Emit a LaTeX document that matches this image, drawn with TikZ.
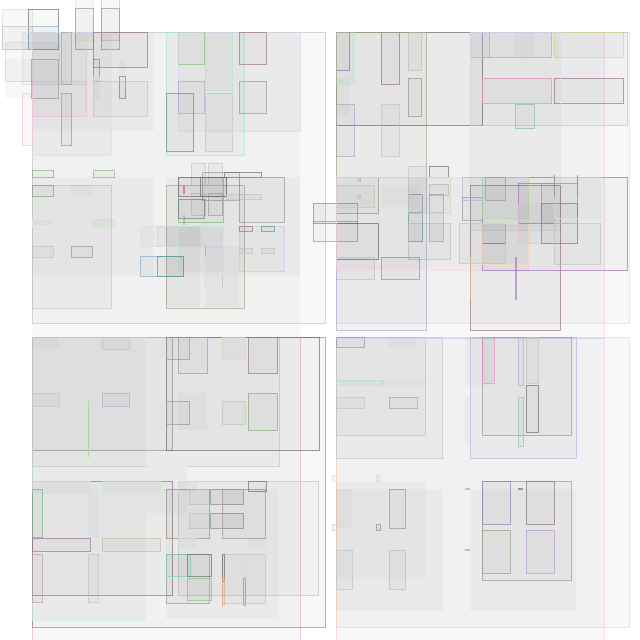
\documentclass[tikz,border=0pt]{standalone}
\usetikzlibrary{}
\definecolor{cgr}{HTML}{9A9A9A}
\definecolor{cdg}{HTML}{707070}
\definecolor{clg}{HTML}{C4C4C4}
\definecolor{cma}{HTML}{9A7888}
\definecolor{cpu}{HTML}{A070C0}
\definecolor{cpk}{HTML}{E890C8}
\definecolor{cgn}{HTML}{88C878}
\definecolor{cmi}{HTML}{80E0C0}
\definecolor{cla}{HTML}{B8B8E0}
\definecolor{cte}{HTML}{5A9A90}
\definecolor{cbl}{HTML}{90B0D0}
\definecolor{col}{HTML}{A8A888}
\definecolor{cor}{HTML}{F4C890}
\definecolor{ctn}{HTML}{D0B898}
\definecolor{cre}{HTML}{E07080}
\definecolor{cye}{HTML}{F0E090}
\definecolor{cbg}{HTML}{8090A8}
\tikzset{
  bx/.style={fill=black,fill opacity=0.026,line width=0.8pt,draw opacity=0.7},
  nf/.style={fill=black,fill opacity=0.026,draw=none},
  edge/.style={line width=0.8pt,draw opacity=0.7},
}
\newcommand\rb[5]{\draw[bx,#1] (#2,#3) rectangle (#4,#5);}
\newcommand\rf[4]{\fill[nf] (#1,#2) rectangle (#3,#4);}
\begin{document}
\begin{tikzpicture}[x=1pt,y=-1pt]
\useasboundingbox (0,0) rectangle (640,640);
% big faint columns
\rf{32}{32}{300}{660}
\draw[edge,cpk!70] (32,337)--(32,660) (300,337)--(300,660);
\rf{336}{32}{604}{660}
\draw[edge,cpk!40] (336,337)--(336,660) (604,32)--(604,660);
% quadrants
\rb{draw=clg}{32}{32}{325}{323}
\rb{draw=cpk!40}{336}{32}{629}{323}
\rb{draw=cbg}{32}{337}{325}{627}
\rb{draw=cor!70}{336}{337}{629}{627}
% ---------- top left outside
\rb{draw=cgn!40}{2}{9}{32}{49}
\rb{draw=cdg}{28}{9}{58}{49}
\rb{draw=cor!60}{75}{-5}{93}{40}
\rb{draw=cgr}{75}{8}{93}{49}
\rb{draw=clg}{101}{-5}{119}{40}
\rb{draw=cgr}{101}{8}{119}{49}
\rb{draw=cbl}{28}{26}{58}{49}
\rb{draw=clg}{2}{26}{32}{49}
\rb{draw=cla!60}{5}{42}{59}{81}
\rf{5}{59}{32}{98}
\rb{draw=cla!60}{22}{32}{86}{84}
\rf{32}{32}{154}{131}
\rb{draw=cla!50}{32}{32}{111}{155}
\rb{draw=cma}{93}{32}{147}{67}
\rb{draw=col}{61}{32}{71}{84}
\rb{draw=cgr}{31}{59}{58}{98}
\rb{draw=cpk!70}{32}{81}{86}{116}
\rb{draw=cpk!50}{22}{93}{32}{145}
\rb{draw=cgr}{61}{93}{71}{145}
\rb{draw=cpu}{93}{59}{99}{81}
\rb{draw=cpk!40}{93}{76}{99}{98}
\rf{119}{59}{125}{76}
\rb{draw=cma}{119}{76}{125}{98}
\rb{draw=clg}{93}{81}{147}{116}
% top-left right group
\rb{draw=cmi!70}{166}{32}{244}{155}
\rb{draw=cgn}{178}{32}{204}{64}
\rb{draw=cmi!60}{205}{32}{232}{90}
\rb{draw=cla!60}{178}{32}{300}{131}
\rb{draw=cma}{239}{32}{266}{64}
\rb{draw=cgr}{239}{81}{266}{113}
\rb{draw=cla!80!gray}{178}{81}{204}{113}
\rb{draw=clg}{205}{93}{232}{151}
\rb{draw=cte!60!gray}{166}{93}{193}{151}
% top-left lower half
\rb{draw=cgn!80!gray}{32}{170}{53}{177}
\rb{draw=cgn!80!gray}{93}{170}{114}{177}
\rf{32}{177}{154}{276}
\rb{draw=clg}{32}{185}{111}{308}
\rb{draw=cgn!50!gray}{32}{185}{53}{196}
\rf{71}{185}{92}{196}
\rb{draw=cgn!25}{32}{219}{53}{226}
\rb{draw=cgn!50}{93}{219}{114}{226}
\rb{draw=clg}{32}{246}{53}{257}
\rb{draw=cgr}{71}{246}{92}{257}
\rf{166}{177}{300}{276}
\rb{draw=col}{166}{185}{244}{308}
\rb{draw=clg}{191}{163}{205}{185}
\rb{draw=clg}{208}{163}{222}{185}
\rb{draw=cgr}{202}{172}{239}{200}
\rb{draw=cdg}{224}{172}{261}{177}
\rb{draw=cgn!70!gray}{178}{177}{223}{222}
\rb{draw=cdg}{178}{177}{226}{196}
\rb{draw=cdg}{200}{177}{226}{196}
\rb{draw=cte!50!cdg}{178}{199}{204}{218}
\rb{draw=cla!80!gray}{191}{193}{205}{215}
\rb{draw=cgr}{208}{193}{222}{215}
\rb{draw=clg}{226}{194}{261}{199}
\rb{draw=cgr}{239}{177}{284}{222}
\fill[cre,opacity=0.8] (183,185) rectangle (185,194);
\fill[cgr,opacity=0.5] (183,215) rectangle (185,225);
\rb{draw=cgn!40}{140}{226}{200}{246}
\rb{draw=cla!60}{157}{226}{222}{246}
\rb{draw=cmi!50}{178}{226}{223}{271}
\draw[cye,line width=0.8pt] (178,247)--(223,247);
\fill[cgr,opacity=0.5] (205,246) rectangle (206,257);
\rb{draw=cbl}{140}{256}{183}{276}
\rb{draw=cte}{157}{256}{183}{276}
\rf{205}{246}{239}{307}
\rf{166}{226}{200}{307}
\rb{draw=cla!80}{239}{226}{284}{271}
\rb{draw=cma}{239}{226}{252}{231}
\rb{draw=cte}{261}{226}{274}{231}
\rb{draw=clg}{239}{248}{252}{253}
\rb{draw=clg}{261}{248}{274}{253}
\draw[cye,line width=0.6pt] (205.5,276)--(205.5,287);
\draw[clg,line width=0.6pt] (222.5,276)--(222.5,287);
% middle overlap
\rb{draw=cgn!70}{313}{203}{336}{223}
\rb{draw=cgr}{313}{203}{357}{223}
\rb{draw=cgr}{313}{221}{357}{241}
% ---------- top right
\rb{draw=cdg}{336}{32}{482}{125}
\rb{draw=cpu}{336}{32}{349}{70}
\rb{draw=cmi!50}{336}{32}{354}{84}
\rf{336}{78}{349}{116}
\rb{draw=cla!80!gray}{336}{104}{354}{156}
\rb{draw=cma!80!cpu}{381}{32}{399}{84}
\rb{draw=clg}{408}{32}{421}{70}
\rb{draw=cgr}{408}{78}{421}{116}
\rb{draw=col!60}{381}{104}{399}{156}
\rb{draw=col}{336}{32}{426}{177}
\rb{draw=clg}{470}{32}{627}{125}
\rb{draw=cla}{470}{32}{489}{57}
\rb{draw=cla!80!cpu}{482}{32}{551}{57}
\rf{515}{32}{534}{57}
\rb{draw=cye!70!cgn}{554}{32}{623}{57}
\rb{draw=cpk}{482}{78}{551}{103}
\rb{draw=cma!70!cpu}{554}{78}{623}{103}
\rb{draw=cbl!70!cmi}{515}{104}{534}{128}
\rb{draw=cbl!40}{470}{32}{560}{230}
\rb{draw=cdg}{429}{166}{448}{177}
\rb{draw=clg}{408}{166}{426}{213}
% top-right lower
\rb{draw=cgr}{336}{177}{378}{213}
\rb{draw=cgn!60}{336}{185}{374}{207}
\rb{draw=cgn}{358}{177}{360}{180}
\rb{draw=cte!50}{358}{195}{360}{198}
\rf{381}{185}{420}{207}
\rb{draw=cgr}{408}{194}{422}{241}
\rb{draw=cte!70}{408}{212}{422}{241}
\rb{draw=clg}{429}{184}{448}{195}
\rb{draw=cma!70}{429}{194}{443}{241}
\rb{draw=clg}{429}{212}{443}{241}
\rb{draw=cgn!50}{408}{177}{450}{213}
\rb{draw=clg}{408}{223}{450}{259}
\rb{draw=cdg}{336}{223}{378}{259}
\rb{draw=clg}{336}{257}{374}{279}
\rb{draw=cgr}{381}{257}{419}{279}
\rb{draw=cla!80!gray}{336}{177}{426}{330}
\rb{draw=cpk!40}{336}{177}{528}{270}
\rb{draw=cma}{470}{185}{560}{330}
\rb{draw=cpu}{482}{177}{627}{270}
\rb{draw=cla}{462}{177}{482}{200}
\rb{draw=cgr}{462}{197}{482}{220}
\rb{draw=cgn!70}{482}{177}{528}{218}
\rb{draw=cgr}{485}{177}{505}{200}
\rb{draw=cdg}{482}{223}{505}{243}
\rb{draw=clg}{459}{223}{505}{263}
\rb{draw=cor!60}{482}{223}{528}{264}
\fill[cpu,opacity=0.6] (515,257) rectangle (517,300);
\fill[cor,opacity=0.5] (470,257) rectangle (471,300);
\rb{draw=cpu}{518}{183}{554}{223}
\rb{draw=cgr}{541}{183}{577}{223}
\rb{draw=cpk!60}{518}{203}{554}{243}
\rb{draw=cma!80!cdg}{541}{203}{577}{243}
\rb{draw=cgn!40}{554}{177}{600}{218}
\rb{draw=clg}{554}{223}{600}{264}
\fill[cgr] (554,175) rectangle (555,197);
\fill[cgr] (577,175) rectangle (578,197);
% ---------- bottom left
\rb{draw=cgr}{32}{337}{172}{450}
\rb{draw=cmi!40}{32}{337}{145}{620}
\rb{draw=clg}{32}{337}{279}{466}
\rb{draw=cdg}{166}{337}{319}{450}
\rb{draw=col!80!cma}{178}{337}{207}{373}
\rb{draw=cgr}{166}{337}{189}{359}
\rb{draw=cgn!50}{222}{337}{245}{359}
\rb{draw=cma}{248}{337}{277}{373}
\rb{draw=col!70}{102}{337}{129}{349}
\rf{32}{337}{59}{348}
\rb{draw=clg}{32}{393}{59}{406}
\rb{draw=cla!80!gray}{102}{393}{129}{406}
\draw[cgn!70,line width=0.6pt] (88,401)--(88,457);
\rb{draw=cgr}{166}{401}{189}{424}
\rf{178}{393}{207}{430}
\rb{draw=clg}{222}{401}{245}{424}
\rb{draw=cgn!60!gray}{248}{393}{277}{430}
\rb{draw=cpk!20}{145}{466}{187}{513}
\rb{draw=cma!80!cdg}{32}{481}{172}{595}
\rb{draw=cbl!30}{32}{481}{90}{494}
\rb{draw=cgn!40}{102}{481}{160}{494}
\rb{draw=cte!50!cgn}{32}{489}{42}{537}
\rb{draw=cbl!40}{88}{489}{98}{537}
\rb{draw=cma!70!cpu}{32}{538}{90}{551}
\rb{draw=ctn}{102}{538}{160}{551}
\rb{draw=cma!70}{32}{554}{42}{602}
\rb{draw=clg}{88}{554}{98}{602}
\rb{draw=clg}{178}{481}{318}{595}
\rb{draw=col!70!cdg}{166}{489}{209}{538}
\rb{draw=cbl!40}{178}{481}{196}{491}
\rb{draw=clg}{189}{489}{243}{504}
\rb{draw=cgr}{210}{489}{243}{504}
\rb{draw=clg}{189}{513}{243}{528}
\rb{draw=cgr}{210}{513}{243}{528}
\rb{draw=cma!80}{222}{489}{265}{538}
\rb{draw=cdg}{248}{481}{266}{491}
\rf{166}{489}{279}{619}
\rb{draw=cbl!40}{178}{538}{196}{548}
\rf{248}{538}{266}{548}
\rb{draw=cgr}{166}{554}{209}{603}
\rb{draw=cmi!80!cte}{166}{554}{190}{576}
\rb{draw=cdg}{187}{554}{211}{576}
\rb{draw=cgn}{187}{578}{211}{600}
\rb{draw=clg}{222}{554}{265}{603}
\rb{draw=cgn!40}{243}{554}{244}{603}
\rb{draw=cdg}{222}{554}{224}{581}
\rb{draw=cor!60!cre}{222}{578}{224}{605}
\rb{draw=cgr}{243}{578}{245}{605}
% ---------- bottom right
\rb{draw=clg}{336}{337}{442}{458}
\rb{draw=clg}{336}{337}{425}{435}
\rb{draw=cgr}{336}{337}{364}{347}
\rf{389}{337}{417}{347}
\draw[cla!60,line width=0.8pt] (336,338.5)--(604,338.5);
\rb{draw=cmi!70}{336}{380}{382}{385}
\rf{380}{380}{426}{385}
\rb{draw=clg}{336}{397}{364}{408}
\rb{draw=cla!70!cdg}{389}{397}{417}{408}
\rb{draw=cla}{470}{337}{576}{458}
\rb{draw=cgr}{482}{337}{571}{435}
\rf{465}{337}{494}{385}
\rb{draw=cpk}{482}{337}{494}{383}
\rb{draw=cla!80!cpu}{518}{337}{523}{385}
\rb{draw=clg}{526}{337}{538}{383}
\rb{draw=cdg}{526}{385}{538}{432}
\rb{draw=cmi!50!cbl}{518}{397}{523}{446}
\rf{465}{397}{470}{446}
\rb{draw=clg!50}{332}{475}{336}{481}
\rb{draw=cgn!40}{376}{475}{380}{481}
\rb{draw=cpk!60}{332}{524}{336}{530}
\rb{draw=cgr}{376}{524}{380}{530}
\rf{336}{481}{425}{579}
\rf{336}{489}{443}{611}
\rf{336}{489}{352}{528}
\rb{draw=cgr}{389}{489}{405}{528}
\rb{draw=clg}{336}{550}{352}{589}
\rb{draw=ctn}{389}{550}{405}{589}
\rf{470}{489}{576}{611}
\rb{draw=cgr}{482}{481}{571}{580}
\rb{draw=cbg!60!cpu}{482}{481}{510}{524}
\rb{draw=cma!70!cdg}{526}{481}{554}{524}
\rb{draw=col!80!cdg}{482}{530}{510}{573}
\rb{draw=cpu!70}{526}{530}{554}{573}
\fill[clg] (465,488) rectangle (470,490);
\fill[cgr] (518,488) rectangle (523,490);
\fill[cla] (465,549) rectangle (470,551);
\fill[cgn!30] (518,549) rectangle (523,551);
\end{tikzpicture}
\end{document}
